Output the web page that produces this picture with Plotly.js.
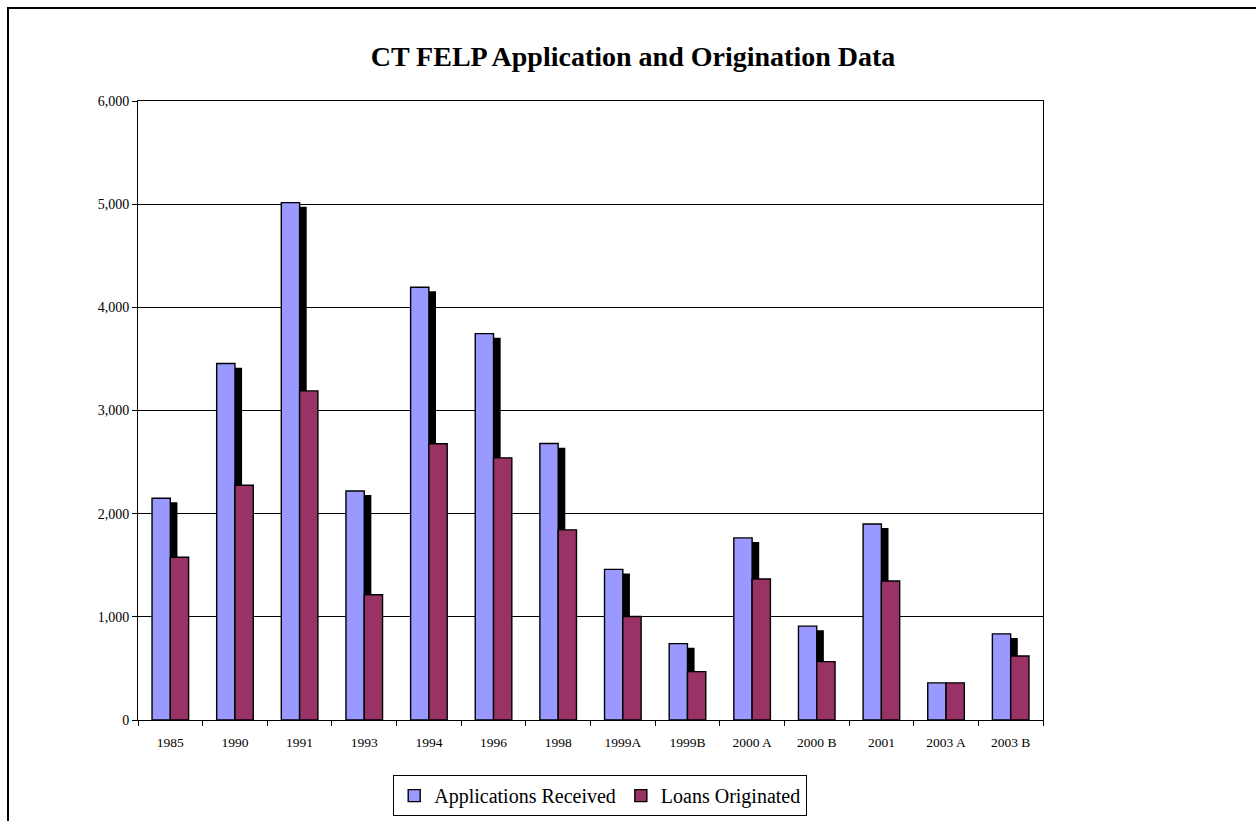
<!DOCTYPE html>
<html>
<head>
<meta charset="utf-8">
<script src="https://cdn.plot.ly/plotly-3.0.1.min.js"></script>
<style>
  html, body { margin: 0; padding: 0; background: #fff; }
  #frame { position: absolute; left: 7px; top: 7px; width: 1249px; height: 814px;
           border-top: 2px solid #000; border-left: 2px solid #000; box-sizing: border-box; }
  #chart { position: absolute; left: 0; top: 0; width: 1256px; height: 821px; }
</style>
</head>
<body>
<div id="frame"></div>
<div id="chart"></div>
<script>
const categories = ["1985", "1990", "1991", "1993", "1994", "1996", "1998",
                    "1999A", "1999B", "2000 A", "2000 B", "2001", "2003 A", "2003 B"];
const applicationsReceived = [2150, 3455, 5015, 2220, 4195, 3745, 2680,
                              1460, 740, 1765, 910, 1900, 360, 835];
const loansOriginated = [1578, 2275, 3190, 1214, 2678, 2541, 1843,
                         1003, 469, 1366, 566, 1348, 360, 621];
const yTickValues = [0, 1000, 2000, 3000, 4000, 5000, 6000];

const serif = "Liberation Serif, Times New Roman, serif";
const barW = 0.283;
// drop shadow of the blue series (offset right and slightly lower)
const shadowDrop = 40;
const shadowValues = applicationsReceived.map(v => Math.max(0, v - shadowDrop));

const traces = [
  {
    type: "bar", x: categories, y: shadowValues,
    width: barW, offset: -barW + 0.11,
    marker: { color: "#000000", line: { width: 0 } },
    showlegend: false, hoverinfo: "skip"
  },
  {
    type: "bar", name: "Applications Received", x: categories, y: applicationsReceived,
    width: barW, offset: -barW,
    marker: { color: "#9999FF", line: { color: "#000000", width: 1.4 } }
  },
  {
    type: "bar", name: "Loans Originated", x: categories, y: loansOriginated,
    width: barW, offset: 0,
    marker: { color: "#993366", line: { color: "#000000", width: 1.4 } }
  }
];

const layout = {
  width: 1256, height: 821,
  paper_bgcolor: "rgba(0,0,0,0)", plot_bgcolor: "#ffffff",
  margin: { l: 138, r: 213, t: 101, b: 101, autoexpand: false },
  barmode: "overlay",
  title: {
    text: "<b>CT FELP Application and Origination Data</b>",
    font: { family: serif, size: 28, color: "#000" },
    x: 0.504, xref: "container", xanchor: "center",
    y: 0.931, yref: "container", yanchor: "middle"
  },
  xaxis: {
    type: "category", automargin: false,
    showline: true, linecolor: "#000", linewidth: 1, mirror: true,
    ticks: "outside", tickson: "boundaries", ticklen: 5, tickcolor: "#000", tickwidth: 1,
    ticklabelstandoff: 10,
    tickfont: { family: serif, size: 13.5, color: "#000" },
    showgrid: false, zeroline: false, fixedrange: true
  },
  yaxis: {
    range: [0, 6000], automargin: false,
    tickvals: yTickValues, tickformat: ",d",
    showline: true, linecolor: "#000", linewidth: 1, mirror: true,
    ticks: "outside", ticklen: 5, tickcolor: "#000", tickwidth: 1,
    tickfont: { family: serif, size: 14, color: "#000" },
    showgrid: true, gridcolor: "#000", gridwidth: 1,
    zeroline: false, fixedrange: true
  },
  legend: {
    orientation: "h",
    x: 0.282, xanchor: "left",
    y: -0.089, yanchor: "top",
    bordercolor: "#000", borderwidth: 1, bgcolor: "#fff",
    font: { family: serif, size: 20, color: "#000" },
    traceorder: "normal", itemwidth: 30
  },
  showlegend: true
};

Plotly.newPlot("chart", traces, layout, { staticPlot: true, displayModeBar: false });
</script>
</body>
</html>
